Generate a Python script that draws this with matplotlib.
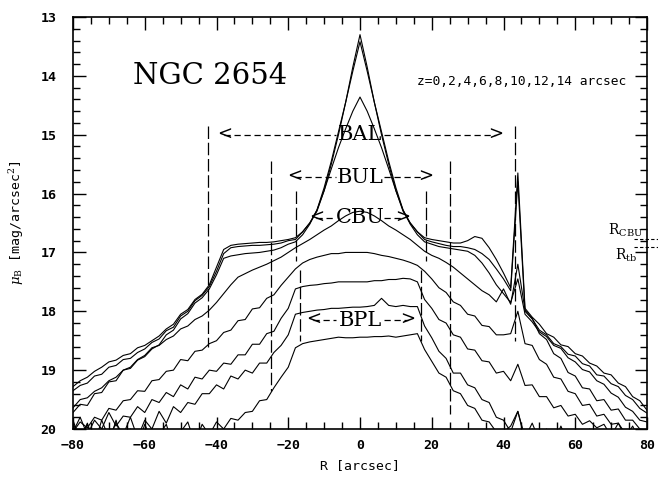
import numpy as np
import matplotlib
matplotlib.use("Agg")
import matplotlib.pyplot as plt
from matplotlib.ticker import MultipleLocator

# Major-axis cuts of NGC 2654 at heights z = 0..14 arcsec (B band)
R = np.arange(-80, 81, 2)
z_offsets = [0, 2, 4, 6, 8, 10, 12, 14]

mu_z0 = [19.28, 19.18, 19.12, 19.02, 18.95, 18.86, 18.83, 18.75, 18.72, 18.62,
         18.58, 18.50, 18.42, 18.30, 18.22, 18.05, 17.97, 17.80, 17.71, 17.55,
         17.25, 16.95, 16.88, 16.86, 16.85, 16.84, 16.83, 16.83, 16.82, 16.80,
         16.78, 16.75, 16.65, 16.50, 16.30, 15.95, 15.50, 15.00, 14.45, 13.85,
         13.30, 13.85, 14.45, 15.00, 15.50, 15.95, 16.30, 16.50, 16.65, 16.75,
         16.78, 16.80, 16.82, 16.84, 16.84, 16.80, 16.73, 16.76, 16.92, 17.12,
         17.35, 17.60, 15.65, 17.95, 18.10, 18.22, 18.38, 18.44, 18.57, 18.60,
         18.72, 18.76, 18.88, 18.93, 19.05, 19.08, 19.22, 19.28, 19.45, 19.52,
         19.68]
mu_z2 = [19.35, 19.26, 19.22, 19.10, 19.07, 18.95, 18.92, 18.82, 18.80, 18.70,
         18.64, 18.53, 18.47, 18.33, 18.27, 18.08, 18.00, 17.82, 17.73, 17.58,
         17.32, 17.02, 16.92, 16.90, 16.89, 16.88, 16.88, 16.87, 16.86, 16.84,
         16.80, 16.78, 16.65, 16.50, 16.28, 15.90, 15.45, 14.95, 14.45, 13.92,
         13.42, 13.92, 14.45, 14.95, 15.45, 15.90, 16.28, 16.50, 16.65, 16.78,
         16.82, 16.85, 16.88, 16.90, 16.90, 16.92, 16.95, 17.02, 17.12, 17.28,
         17.45, 17.65, 15.80, 18.00, 18.13, 18.32, 18.40, 18.55, 18.60, 18.73,
         18.76, 18.89, 18.93, 19.08, 19.10, 19.23, 19.28, 19.43, 19.50, 19.65,
         19.73]
mu_z4 = [19.64, 19.50, 19.47, 19.36, 19.30, 19.18, 19.12, 19.00, 18.97, 18.83,
         18.77, 18.64, 18.57, 18.40, 18.32, 18.13, 18.04, 17.86, 17.77, 17.62,
         17.38, 17.10, 17.06, 17.04, 17.02, 17.01, 17.00, 16.98, 16.96, 16.92,
         16.86, 16.82, 16.70, 16.52, 16.28, 15.95, 15.58, 15.22, 14.90, 14.60,
         14.36, 14.60, 14.90, 15.22, 15.58, 15.95, 16.28, 16.52, 16.70, 16.82,
         16.86, 16.90, 16.92, 16.94, 16.96, 16.98, 17.05, 17.18, 17.35, 17.55,
         17.70, 17.85, 17.45, 18.05, 18.18, 18.35, 18.43, 18.58, 18.63, 18.79,
         18.86, 18.99, 19.03, 19.18, 19.24, 19.39, 19.46, 19.63, 19.70, 19.85,
         19.88]
mu_z6 = [19.72, 19.58, 19.60, 19.40, 19.38, 19.20, 19.18, 19.00, 18.95, 18.82,
         18.75, 18.62, 18.58, 18.48, 18.42, 18.30, 18.25, 18.14, 18.08, 17.98,
         17.85, 17.70, 17.55, 17.42, 17.36, 17.30, 17.25, 17.20, 17.14, 17.08,
         17.00, 16.92, 16.85, 16.78, 16.70, 16.62, 16.55, 16.46, 16.38, 16.32,
         16.30, 16.32, 16.38, 16.46, 16.55, 16.62, 16.70, 16.78, 16.88, 16.98,
         17.05, 17.10, 17.17, 17.25, 17.35, 17.45, 17.55, 17.65, 17.72, 17.84,
         17.62, 17.88, 17.20, 17.98, 18.12, 18.38, 18.48, 18.72, 18.80, 19.04,
         19.10, 19.30, 19.32, 19.52, 19.50, 19.68, 19.66, 19.85, 19.85, 20.00,
         20.02]
mu_z8 = [20.05, 19.88, 19.98, 19.80, 19.85, 19.65, 19.68, 19.52, 19.50, 19.35,
         19.36, 19.18, 19.16, 19.02, 19.00, 18.82, 18.84, 18.68, 18.66, 18.55,
         18.50, 18.36, 18.32, 18.16, 18.14, 17.96, 17.94, 17.78, 17.72, 17.56,
         17.42, 17.28, 17.18, 17.12, 17.08, 17.05, 17.02, 17.02, 17.00, 17.00,
         17.00, 17.00, 17.02, 17.05, 17.07, 17.10, 17.13, 17.17, 17.22, 17.32,
         17.45, 17.60, 17.68, 17.84, 17.90, 18.05, 18.08, 18.24, 18.26, 18.40,
         18.40, 18.38, 18.00, 18.55, 18.58, 18.82, 18.90, 19.12, 19.15, 19.36,
         19.40, 19.60, 19.58, 19.78, 19.75, 19.92, 19.90, 20.08, 20.05, 20.10,
         20.15]
mu_z10 = [20.05, 19.80, 20.10, 19.85, 20.00, 19.72, 19.95, 19.78, 19.80, 19.62,
          19.72, 19.50, 19.55, 19.38, 19.45, 19.25, 19.32, 19.12, 19.15, 19.00,
          19.02, 18.88, 18.90, 18.74, 18.74, 18.56, 18.56, 18.38, 18.34, 18.12,
          17.95, 17.62, 17.58, 17.56, 17.55, 17.53, 17.52, 17.50, 17.50, 17.50,
          17.50, 17.50, 17.48, 17.48, 17.46, 17.46, 17.44, 17.45, 17.50, 17.80,
          17.95, 18.14, 18.20, 18.40, 18.44, 18.64, 18.66, 18.84, 18.86, 19.05,
          19.02, 19.18, 18.90, 19.26, 19.25, 19.45, 19.45, 19.64, 19.60, 19.78,
          19.75, 19.92, 19.86, 19.98, 19.92, 20.12, 19.90, 20.15, 19.95, 20.20,
          20.05]
mu_z12 = [19.85, 20.20, 19.90, 20.25, 19.85, 20.15, 19.90, 20.10, 19.80, 20.15,
          19.85, 20.00, 19.70, 19.90, 19.62, 19.72, 19.55, 19.58, 19.40, 19.40,
          19.25, 19.32, 19.10, 19.15, 19.00, 19.05, 18.88, 18.88, 18.70, 18.58,
          18.40, 18.05, 18.02, 18.00, 17.98, 17.97, 17.95, 17.95, 17.94, 17.93,
          17.93, 17.92, 17.90, 17.78, 17.90, 17.92, 17.90, 17.92, 17.92, 18.25,
          18.45, 18.68, 18.80, 19.05, 19.05, 19.25, 19.30, 19.50, 19.55, 19.80,
          19.85, 20.05, 19.70, 20.15, 19.90, 20.20, 20.00, 20.25, 19.95, 20.25,
          20.05, 20.30, 20.00, 20.25, 20.30, 20.05, 20.30, 20.35, 20.10, 20.35,
          20.20]
mu_z14 = [19.90, 20.20, 19.92, 20.30, 20.00, 20.25, 19.85, 20.30, 20.00, 20.30,
          19.92, 20.20, 20.10, 19.92, 20.30, 20.05, 19.88, 20.25, 19.92, 20.10,
          19.88, 20.00, 19.82, 19.85, 19.72, 19.70, 19.52, 19.50, 19.30, 19.12,
          18.95, 18.62, 18.55, 18.52, 18.50, 18.48, 18.46, 18.44, 18.45, 18.45,
          18.44, 18.44, 18.43, 18.43, 18.42, 18.44, 18.42, 18.40, 18.38, 18.65,
          18.85, 19.05, 19.12, 19.35, 19.40, 19.60, 19.65, 19.85, 19.88, 20.05,
          20.05, 19.95, 19.70, 20.20, 20.00, 20.30, 20.05, 20.35, 20.15, 20.40,
          20.20, 20.45, 20.25, 20.40, 20.50, 20.25, 20.45, 20.50, 20.30, 20.55,
          20.40]
profiles = [mu_z0, mu_z2, mu_z4, mu_z6, mu_z8, mu_z10, mu_z12, mu_z14]

# Structural regions: names, radial limits and vertical extent of the markers
regions = ["BAL", "BUL", "CBU", "BPL"]
region_left = [-42.5, -24.8, -17.9, -16.8]
region_right = [43.2, 25.0, 18.4, 16.9]
marker_top = [14.85, 15.45, 15.95, 17.3]
marker_bottom_left = [18.6, 19.35, 17.15, 18.5]
marker_bottom_right = [18.5, 19.75, 17.15, 18.5]
arrow_level = [15.0, 15.72, 16.41, 18.15]
arrow_left = [-39.8, -20.2, -14.2, -15.0]
arrow_right = [40.0, 20.4, 14.0, 15.4]

# Characteristic surface-brightness levels marked at the right edge
level_names = [r"R$_{\rm CBU}$", r"R$_{\rm tb}$"]
level_mu = [16.77, 16.91]
level_label_x = [79.0, 77.3]
level_label_mu = [16.62, 17.05]

x_ticks = [-80, -60, -40, -20, 0, 20, 40, 60, 80]
y_ticks = [13, 14, 15, 16, 17, 18, 19, 20]

mono = "DejaVu Sans Mono"
serif = "DejaVu Serif"
plt.rcParams["mathtext.fontset"] = "dejavuserif"

fig = plt.figure(figsize=(6.58, 4.82), dpi=100)
ax = fig.add_axes([73 / 658, 1 - 429 / 482, (647 - 73) / 658, (429 - 17) / 482])

for mu in profiles:
    ax.plot(R, mu, color="k", lw=0.8)

for i, name in enumerate(regions):
    for xv, yb in ((region_left[i], marker_bottom_left[i]),
                   (region_right[i], marker_bottom_right[i])):
        ax.plot([xv, xv], [marker_top[i], yb], color="k", lw=0.9,
                dashes=(10, 3))
    y = arrow_level[i]
    half = 6.8
    ax.plot([arrow_left[i] + 2.0, -half], [y, y], color="k", lw=0.9,
            dashes=(5, 3))
    ax.plot([half, arrow_right[i] - 2.0], [y, y], color="k", lw=0.9,
            dashes=(5, 3))
    ax.text(arrow_left[i], y, "<", ha="left", va="center", fontsize=13,
            family=serif)
    ax.text(arrow_right[i], y, ">", ha="right", va="center", fontsize=13,
            family=serif)
    ax.text(0, y, name, ha="center", va="center", fontsize=15, family=serif)

for mu in level_mu:
    ax.plot([76.5, 88], [mu, mu], color="k", lw=0.8, dashes=(3, 2),
            clip_on=False)
for name, xl, yl in zip(level_names, level_label_x, level_label_mu):
    ax.text(xl, yl, name, ha="right", va="center", fontsize=10, family=serif)

ax.text(-41.8, 14.0, "NGC 2654", ha="center", va="center", fontsize=21,
        family=serif)
ax.text(45.0, 14.1, "z=0,2,4,6,8,10,12,14 arcsec", ha="center", va="center",
        fontsize=9.3, family=mono)

ax.set_xlim(-80, 80)
ax.set_ylim(20, 13)
ax.set_xticks(x_ticks)
ax.set_yticks(y_ticks)
ax.xaxis.set_minor_locator(MultipleLocator(5))
ax.yaxis.set_minor_locator(MultipleLocator(0.2))
ax.tick_params(which="both", direction="in", top=True, right=True,
               width=1.0, colors="k")
ax.tick_params(which="major", length=9)
ax.tick_params(which="minor", length=5)
ax.tick_params(axis="x", which="major", pad=7)
ax.tick_params(axis="y", which="major", pad=12)
for lab in ax.get_xticklabels() + ax.get_yticklabels():
    lab.set_family(mono)
    lab.set_fontsize(9.5)
    lab.set_fontweight("bold")
for sp in ax.spines.values():
    sp.set_linewidth(1.2)

ax.set_xlabel("R [arcsec]", family=mono, fontsize=9.5, labelpad=5)
ax.set_ylabel(r"$\mu_{\rm B}$ [mag/arcsec$^2$]", family=mono, fontsize=9.5,
              labelpad=10)

fig.savefig("out.png", dpi=100)
